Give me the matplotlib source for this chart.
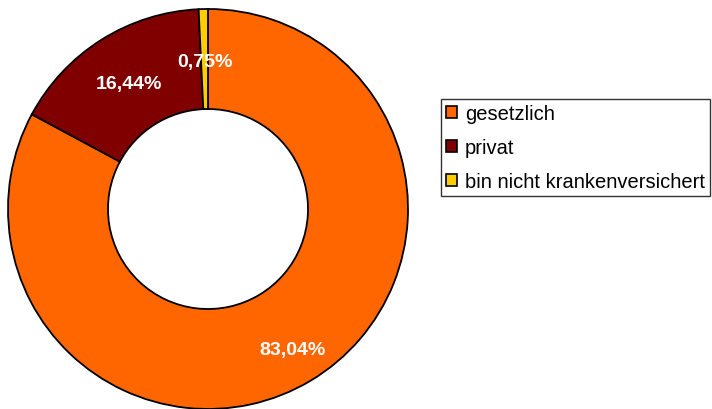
import numpy as np
import matplotlib.pyplot as plt
from matplotlib.patches import Patch

plt.rcParams['font.family'] = ['Liberation Sans', 'DejaVu Sans']

labels = ['gesetzlich', 'privat', 'bin nicht krankenversichert']
values = [83.04, 16.44, 0.75]
pct_text = ['83,04%', '16,44%', '0,75%']
colors = ['#FF6600', '#800000', '#FFCC00']
label_dist = [0.82, 0.74, 0.74]

fig = plt.figure(figsize=(7.12, 4.10), dpi=100)
ax = fig.add_axes([8 / 712, 0 / 410, 400 / 712, 400 / 410])

wedges, _ = ax.pie(values, colors=colors, startangle=90, counterclock=False,
                   radius=1.0, wedgeprops=dict(width=0.5, edgecolor='black', linewidth=1.3))
ax.set_xlim(-1, 1)
ax.set_ylim(-1, 1)
ax.set_aspect('equal')
ax.axis('off')

for w, t, d in zip(wedges, pct_text, label_dist):
    ang = np.deg2rad((w.theta1 + w.theta2) / 2)
    ax.text(d * np.cos(ang), d * np.sin(ang), t, ha='center', va='center',
            color='white', fontsize=14, fontweight='bold')

handles = [Patch(facecolor=c, edgecolor='black', linewidth=1.2) for c in colors]
leg = fig.legend(handles, labels, loc='upper left', bbox_to_anchor=(441 / 712, 1 - 100 / 410),
                 fontsize=14.5, frameon=True, fancybox=False, handlelength=0.55,
                 handleheight=0.55, handletextpad=0.4, labelspacing=0.75, borderpad=0.25,
                 borderaxespad=0)
leg.get_frame().set_edgecolor('black')
leg.get_frame().set_linewidth(1.0)

fig.savefig('out.png', dpi=100)
